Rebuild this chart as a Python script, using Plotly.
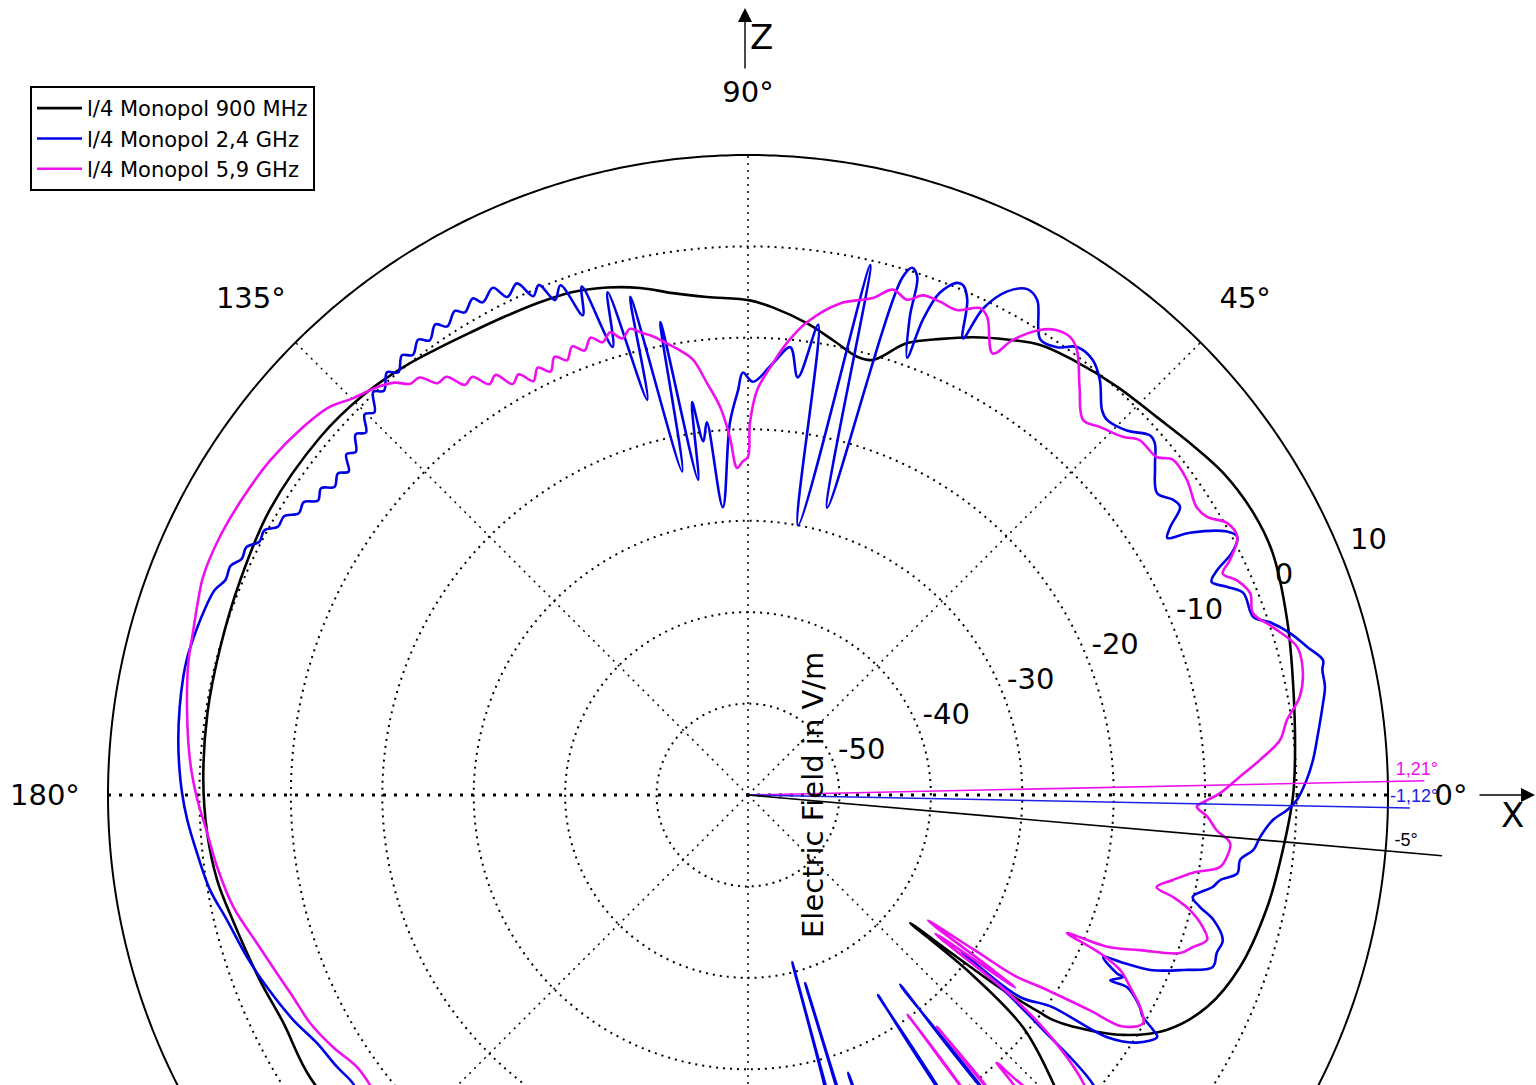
import numpy as np
import plotly.graph_objects as go

# ---------------- axes ----------------
R_MIN, R_RIM = -60, 10          # radial scale in dB, rim of the diagram at +10
R_VIEW = 17.5                   # extra room outside the rim for labels and markers
r_ticks = [-50, -40, -30, -20, -10, 0, 10]
r_ticklabels = ["-50", "-40", "-30", "-20", "-10", "0", "10"]
theta_ticks = [0, 45, 90, 135, 180, 225, 270, 315]
theta_label_ticks = [0, 45, 90, 135, 180]
theta_ticklabels = ["0°", "45°", "90°", "135°", "180°"]

# ---------------- l/4 monopole, 900 MHz ----------------
theta_900 = [-147, -135, -120, -110, -100, -90, -80, -70, -60, -50, -46, -43.3, -40.2, -38.7,
             -38.3, -37.8, -37.4, -36.7, -36.4, -35.5, -32.6, -29.3, -24.8, -19.3, -12.2, -5.9,
             -0.2, 3.7, 11.2, 18.0, 24.8, 29.2, 34.1, 38.5, 42.7, 47.9, 53.2, 57.0, 60.4, 63.8,
             67.0, 70.6, 74.0, 76.0, 79.4, 82.9, 87.1, 89.8, 94.7, 98.5, 102.0, 105.5, 109.2,
             112.9, 117.0, 121.0, 125.0, 128.9, 134.0, 140.1, 149.2, 157.1, 164.3, 171.4, 178.4,
             184.0, 189.1, 193.6, 200.8, 206.1, 213.0]
field_900 = [-3.0, -3.5, -5.0, -7.0, -10.0, -12.0, -8.0, -5.0, -4.0, -6.0, -9.0, -14.2, -20.6, -28.9,
             -37.4, -31.1, -24.9, -20.2, -18.5, -16.4, -11.3, -7.5, -4.7, -3.0, -1.9, -1.2,
             -0.4, -0.05, 0.8, 2.0, 3.2, 3.3, 2.8, 1.8, 0.9, 0.2, -0.6, -1.3, -2.7, -4.2,
             -5.8, -7.6, -10.5, -10.6, -9.4, -8.0, -6.6, -5.9, -5.35, -4.5, -3.3, -2.4, -1.75,
             -1.5, -1.3, -1.0, -0.5, 0.1, 0.7, 1.0, 0.9, 0.3, -0.06, -0.2, -0.4,
             -0.7, -1.2, -2.0, -2.9, -3.4, -3.0]

# ---------------- l/4 monopole, 2.4 GHz ----------------
theta_2400 = [-144, -140, -130, -120, -110, -100, -90, -82, -77, -75.5, -75.2, -74.9, -74.3, -73.4,
              -73.1, -72.8, -72.0, -70.6, -70.2, -69.8, -68, -64, -60, -57.5, -57.0, -56.5, -54,
              -52, -51.3, -50.6, -47.5, -45, -42.5, -40, -38.5, -37.5, -36.3, -36.7, -36.6, -34.9,
              -34.0, -32.5, -30.6, -30.1, -29.3, -28.4, -26.9, -27.1, -25.9, -25.8, -24.5, -24.1,
              -23.5, -21.9, -20.3, -18.6, -17.0, -15.0, -13.9, -12.9, -11.2, -10.2, -9.1, -7.5,
              -6.2, -4.7, -2.7, -1.6, -0.5, 1.5, 3.5, 5.8, 9.1, 10.6, 12.3, 13.2, 14.8, 16.6,
              18.3, 19.4, 22.2, 23.5, 24.7, 25.6, 26.6, 27.8, 28.8, 30.7, 31.5, 32.4, 33.7, 34.8,
              36.4, 38.9, 40.8, 41.8, 43.9, 46.3, 47.4, 49.7, 51.6, 53.7, 55.4, 57.3, 59.7, 61.1,
              62.8, 64.2, 64.8, 66.1, 67.1, 67.8, 69.1, 69.8, 70.0, 71.3, 71.9, 72.7, 73.4, 74.6,
              77.0, 79.5, 81.5, 83.2, 84.6, 86.7, 89.3, 90.7, 91.4, 92.8, 95.0, 96.3, 97.2, 98.1,
              99.0, 100.5, 101.5, 103.3, 104.3, 105.6, 106.8, 108.1, 109.0, 110.2, 111.3, 112.3,
              113.3, 114.3, 115.8, 116.7, 118.3, 119.0, 120.4, 121.2, 122.7, 123.6, 125.0, 125.9,
              127.3, 128.2, 129.6, 130.5, 132.0, 132.9, 134.3, 135.2, 136.5, 137.4, 138.8, 139.7,
              141.0, 141.9, 143.3, 144.3, 145.6, 146.6, 147.9, 149.0, 150.3, 151.3, 152.6, 153.7,
              155.0, 156.1, 157.6, 159.0, 161.2, 164.4, 166.5, 168.2, 171.2, 174.5, 177.0, 179.8,
              182.5, 186.0, 190.0, 193.5, 197.9, 201.8, 206.3, 209.9, 213.5, 216.0]
field_2400 = [-6.5, -6.0, -5.0, -7.0, -9.0, -6.0, -4.0, -6.0, -12.0, -22.0, -41.1, -22.0, -14.0, -20.0,
              -38.5, -20.0, -12.0, -18.0, -27.7, -18.0, -9.0, -5.0, -7.0, -14.0, -33.9, -14.0, -8.0,
              -12.0, -33.4, -12.0, -7.0, -5.0, -6.0, -10.7, -18.8, -24.0, -31.0, -27.4, -22.9, -19.5,
              -12.6, -9.6, -8.0, -8.8, -10.5, -11.3, -13.5, -15.5, -14.4, -15.2, -17.3, -15.0,
              -12.0, -8.7, -5.8, -5.9, -5.7, -7.3, -9.1, -10.1, -8.2, -7.5, -5.8, -5.7,
              -4.4, -3.8, -2.5, -1.0, 0.05, 1.1, 1.9, 2.6, 3.7, 4.2, 4.3, 4.6, 3.3, 1.9,
              0.15, -1.4, -1.5, -2.9, -4.2, -3.1, -0.8, 0.5, -0.2, -3.8, -6.2, -5.3, -3.2, -3.4,
              -4.4, -2.8, -1.2, -1.0, -2.5, -3.2, -2.8, -0.5, 0.7, 0.8, -0.5, -0.8, 2.7, 3.2,
              1.9, -0.9, -4.8, -0.8, 0.5, 0.5, -1.2, -4.6, -9.1, -4.8, -0.4, 0.4, -1.0, -27.4,
              -0.5, -30.0, -8.0, -14.0, -10.8, -12.7, -14.8, -13.8, -15.7, -19.3, -28.4, -19.0, -21.0, -16.6,
              -25.1, -7.4, -23.9, -4.0, -15.4, -2.9, -8.8, -1.5, -4.5, -0.6, -1.9, 0.3,
              -0.6, 1.4, 0.5, 2.1, 1.2, 2.1, 1.2, 1.9, 0.9, 1.8, 0.7, 1.5,
              0.5, 1.2, 0.0, 0.8, -0.5, 0.2, -1.5, -0.9, -2.4, -1.7, -3.0, -2.4,
              -3.8, -3.0, -3.6, -2.5, -3.0, -1.8, -2.0, -0.8, -0.8, 0.3, 0.2, 1.2,
              1.1, 1.9, 1.8, 2.5, 2.8, 3.05, 3.15, 3.1, 2.9, 2.6, 2.3, 1.9,
              1.4, 0.6, -0.25, -1.4, -2.4, -3.35, -4.5, -5.6, -6.1, -6.5]

# ---------------- l/4 monopole, 5.9 GHz ----------------
theta_5900 = [-142.5, -140, -125, -110, -95, -80, -65, -57, -54.3, -54.0, -53.7, -53, -51.1, -50.8,
              -50.5, -49, -47.5, -47.1, -46.7, -45, -43, -40.5, -38.5, -37.3, -36.5, -35.8, -35.5,
              -34.9, -34.4, -34.1, -33.3, -32.2, -31.7, -30.0, -28.4, -26.7, -25.2, -24.2, -23.4,
              -22.9, -21.6, -20.1, -18.9, -17.5, -16.2, -14.6, -13.5, -12.7, -11.3, -9.9, -8.7,
              -7.4, -5.7, -4.3, -2.7, -1.5, -0.9, 0.2, 2.1, 3.9, 5.9, 7.9, 10.1, 12.7, 15.1,
              17.7, 19.8, 21.9, 23.7, 25.0, 26.0, 27.8, 29.6, 31.2, 32.7, 35.7, 38.3, 39.6, 42.2,
              43.7, 46.3, 48.2, 50.9, 53.5, 54.9, 56.5, 57.9, 59.8, 61.0, 63.4, 64.5, 66.7, 68.7,
              70.7, 72.2, 74.0, 75.9, 79.4, 82.9, 85.1, 86.7, 88.7, 89.7, 90.0, 90.9, 91.9, 92.9,
              94.1, 95.7, 97.2, 98.7, 100.2, 102.0, 103.0, 104.2, 105.4, 106.6, 107.8, 109.0,
              110.2, 111.4, 112.6, 113.8, 115.0, 116.2, 117.4, 118.6, 119.8, 121.0, 122.2, 123.4,
              124.6, 125.8, 127.0, 128.2, 129.4, 130.6, 132.3, 134.9, 137.1, 140.4, 145.0, 149.5,
              154.0, 158.2, 160.5, 163.4, 166.7, 171.7, 176.7, 180.2, 184.0, 187.7, 192.3, 196.8,
              200.7, 203.9, 207.5, 211.3, 214.8, 217.5]
field_5900 = [-7.9, -7.5, -8.0, -10.0, -7.0, -9.0, -6.0, -8.0, -15.0, -30.3, -15.0, -10.0, -14.0, -27.3,
              -14.0, -9.0, -17.0, -20.0, -17.0, -9.0, -8.0, -12.0, -18.0, -24.0, -34.5, -24.0, -28.0,
              -36.0, -30.0, -24.5, -21.8, -15.8, -11.8, -10.1, -11.25, -13.2, -15.0, -17.8, -22.0,
              -17.35, -13.9, -9.7, -8.6, -7.35, -8.2, -10.05, -12.2, -14.2, -12.6, -10.6, -7.8,
              -7.2, -7.0, -8.6, -9.7, -10.9, -10.2, -8.4, -6.2, -3.9, -1.5, -0.5, 1.3, 2.2, 2.2,
              0.3, -1.3, -0.8, -1.6, -2.7, -1.35, 0.5, 0.25, -1.3, -1.7, -0.9, -0.8, -2.0, -2.2,
              -3.3, -4.3, -5.0, -2.5, 0.5, 1.25, 1.0, 0.05, -2.4, -4.8, -1.55, -1.0, -2.25, -2.1,
              -2.1, -3.1, -2.5, -3.95, -5.3, -7.9, -10.4, -12.7, -15.7, -19.3, -23.0, -23.5, -24.2, -20.8,
              -17.45, -14.7, -12.0, -10.8, -9.8, -8.6, -8.1, -7.4, -8.2, -7.2, -8.0, -7.1,
              -8.2, -7.3, -8.5, -7.6, -8.9, -7.9, -9.0, -7.6, -8.2, -6.4, -6.9, -5.2,
              -5.5, -3.6, -3.6, -1.9, -1.8, -0.6, 0.3, 1.25, 2.4, 3.15, 3.8, 4.1,
              4.3, 4.2, 3.8, 3.3, 2.9, 2.0, 1.1, 0.3, -0.7, -1.4, -2.4, -3.9,
              -4.9, -5.55, -6.0, -6.9, -7.9, -7.9]

# angles of the main-beam direction markers
marker_angles = [1.21, -1.12, -5.0]
marker_reach = [14.0, 12.4, 16.2]
marker_labels = ["1,21°", "-1,12°", "-5°"]
marker_label_theta = [2.2, -0.1, -3.96]
marker_label_r = [13.2, 12.85, 12.15]

BLACK, BLUE, MAGENTA = "#000000", "#0000e6", "#ee10ee"
series = [
    ("l/4 Monopol 900 MHz", theta_900, field_900, BLACK),
    ("l/4 Monopol 2,4 GHz", theta_2400, field_2400, BLUE),
    ("l/4 Monopol 5,9 GHz", theta_5900, field_5900, MAGENTA),
]

W, H = 1536, 1520
FONT = "DejaVu Sans"
GRID_DASH = "2px,5px"
TEXT_DROP = 0.35   # small downward nudge (dB units) to centre the text glyphs


def shifted(r, t, dx=0.0, dy=0.0):
    """Polar position (r, theta) moved by (dx, dy) measured in dB units."""
    rr_ = np.asarray(r, dtype=float) - R_MIN
    tt = np.deg2rad(np.asarray(t, dtype=float))
    x = rr_ * np.cos(tt) + dx
    y = rr_ * np.sin(tt) + dy
    return np.hypot(x, y) + R_MIN, np.degrees(np.arctan2(y, x))


fig = go.Figure()

# rim of the diagram (the +10 dB circle)
rim_theta = np.linspace(0, 360, 721)
fig.add_trace(go.Scatterpolar(
    r=np.full(rim_theta.size, R_RIM), theta=rim_theta, mode="lines",
    line=dict(color="black", width=2), showlegend=False, hoverinfo="skip"))

# dotted angular grid spokes, pole to rim
for t in theta_ticks:
    if t % 180 == 0:
        continue
    fig.add_trace(go.Scatterpolar(
        r=[R_MIN, R_RIM], theta=[t, t], mode="lines",
        line=dict(color="black", width=1.5, dash=GRID_DASH),
        showlegend=False, hoverinfo="skip"))

# bold 0°/180° axis line through the pole
fig.add_trace(go.Scatterpolar(
    r=[R_RIM, R_MIN, R_RIM], theta=[180, 0, 0], mode="lines",
    line=dict(color="black", width=3, dash="3px,8px"),
    showlegend=False, hoverinfo="skip"))

for name, th, val, col in series:
    fig.add_trace(go.Scatterpolar(
        r=val, theta=th, mode="lines", name=name,
        line=dict(color=col, width=2.6, shape="spline", smoothing=1.0)))

# beam direction markers
for ang, reach, col in zip(marker_angles, marker_reach, [MAGENTA, "#2020e6", BLACK]):
    fig.add_trace(go.Scatterpolar(
        r=[R_MIN, reach], theta=[ang, ang], mode="lines",
        line=dict(color=col, width=1.6), cliponaxis=False,
        showlegend=False, hoverinfo="skip"))

mr, mt = shifted(marker_label_r, marker_label_theta, dy=-0.15)
fig.add_trace(go.Scatterpolar(
    r=mr, theta=mt, mode="text", text=marker_labels,
    textposition="middle center", cliponaxis=False,
    textfont=dict(family="Liberation Sans", size=18, color=[MAGENTA, "#2020e6", BLACK]),
    showlegend=False, hoverinfo="skip"))

# radial tick labels, beside the 22.5° ray
lr, lt = shifted(r_ticks, [22.5] * len(r_ticks), dx=3.2, dy=1.3 - TEXT_DROP)
fig.add_trace(go.Scatterpolar(
    r=lr, theta=lt, mode="text", text=r_ticklabels, textposition="middle center",
    cliponaxis=False, textfont=dict(family=FONT, size=29, color="black"),
    showlegend=False, hoverinfo="skip"))

# angular tick labels outside the rim
label_r = 16.9
ar, at = shifted([label_r] * len(theta_label_ticks), theta_label_ticks, dy=-TEXT_DROP)
fig.add_trace(go.Scatterpolar(
    r=ar, theta=at, mode="text", text=theta_ticklabels, textposition="middle center",
    cliponaxis=False, textfont=dict(family=FONT, size=29, color="black"),
    showlegend=False, hoverinfo="skip"))

cx, cy = 748, 795
px_per_db = 640 / (R_RIM - R_MIN)
rad = (R_VIEW - R_MIN) * px_per_db
fig.update_layout(
    width=W, height=H,
    margin=dict(l=0, r=0, t=0, b=0),
    paper_bgcolor="white",
    font=dict(family=FONT, color="black"),
    polar=dict(
        domain=dict(x=[(cx - rad) / W, (cx + rad) / W],
                    y=[(H - cy - rad) / H, (H - cy + rad) / H]),
        bgcolor="white",
        radialaxis=dict(range=[R_MIN, R_VIEW], tickvals=r_ticks[:-1], showticklabels=False,
                        ticks="", showline=False, showgrid=True, gridcolor="black",
                        gridwidth=1.5, griddash=GRID_DASH, layer="below traces"),
        angularaxis=dict(showticklabels=False, ticks="", showline=False, showgrid=False,
                         rotation=0, direction="counterclockwise"),
    ),
    legend=dict(x=30 / W, y=(H - 86) / H, xanchor="left", yanchor="top",
                bgcolor="white", bordercolor="black", borderwidth=2, itemwidth=45,
                font=dict(family=FONT, size=21, color="black")),
    showlegend=True,
)

fig.add_annotation(x=813 / W, y=(H - cy) / H, xref="paper", yref="paper",
                   text="Electric Field in V/m", textangle=-90, showarrow=False,
                   font=dict(family=FONT, size=29, color="black"),
                   xanchor="center", yanchor="middle")

# coordinate axis arrows
fig.add_annotation(x=745 / W, y=(H - 8) / H, xref="paper", yref="paper", text="",
                   showarrow=True, ax=0, ay=62, arrowhead=2, arrowsize=2,
                   arrowwidth=1.4, arrowcolor="black")
fig.add_annotation(x=761 / W, y=(H - 37) / H, xref="paper", yref="paper", text="Z",
                   showarrow=False, xanchor="center", yanchor="middle",
                   font=dict(family=FONT, size=34, color="black"))
fig.add_annotation(x=1535 / W, y=(H - cy) / H, xref="paper", yref="paper", text="",
                   showarrow=True, ax=-57, ay=0, arrowhead=2, arrowsize=2,
                   arrowwidth=1.4, arrowcolor="black")
fig.add_annotation(x=1512 / W, y=(H - 815) / H, xref="paper", yref="paper", text="X",
                   showarrow=False, xanchor="center", yanchor="middle",
                   font=dict(family=FONT, size=34, color="black"))

fig.write_html("out.html")
